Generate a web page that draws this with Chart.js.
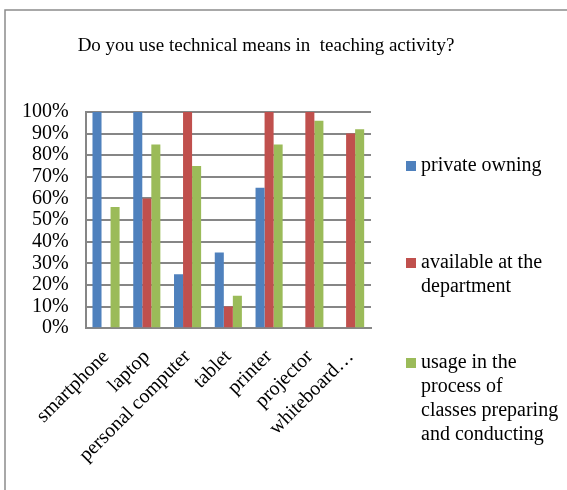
<!DOCTYPE html>
<html>
<head>
<meta charset="utf-8">
<script src="https://cdn.jsdelivr.net/npm/chart.js@4"></script>
<style>
  html, body { margin: 0; padding: 0; background: #fff; }
  #wrap { width: 567px; height: 490px; position: relative; }
</style>
</head>
<body>
<div id="wrap"><canvas id="c" width="567" height="490"></canvas></div>
<script>
const chartTitle = 'Do you use technical means in  teaching activity?';
const categories = ['smartphone', 'laptop', 'personal computer', 'tablet', 'printer', 'projector', 'whiteboard\u2026'];
const seriesNames = [['private owning'], ['available at the', 'department'], ['usage in the', 'process of', 'classes preparing', 'and conducting']];
const privateOwning = [100, 100, 25, 35, 65, 0, 0];
const availableDept = [0, 60, 100, 10, 100, 100, 90];
const usageClasses = [56, 85, 75, 15, 85, 96, 92];
const seriesColors = ['#4F81BD', '#C0504D', '#9BBB59'];

const FONT = '"Liberation Serif", "Times New Roman", serif';

const framePlugin = {
  id: 'frame',
  beforeDraw(chart) {
    const ctx = chart.ctx;
    ctx.save();
    ctx.fillStyle = '#fff';
    ctx.fillRect(0, 0, chart.width, chart.height);
    ctx.strokeStyle = '#8c8c8c';
    ctx.lineWidth = 1.5;
    ctx.beginPath();
    ctx.moveTo(5, chart.height);
    ctx.lineTo(5, 10);
    ctx.lineTo(chart.width, 10);
    ctx.stroke();
    ctx.restore();
  },
  afterDraw(chart) {
    const ctx = chart.ctx;
    ctx.save();
    ctx.fillStyle = '#000';
    ctx.font = '19px ' + FONT;
    ctx.textAlign = 'center';
    ctx.textBaseline = 'middle';
    ctx.fillText(chartTitle, 266, 46);
    // legend
    const itemY = [166, 263, 363];
    const lineH = 24;
    ctx.font = '20px ' + FONT;
    ctx.textAlign = 'left';
    chart.data.datasets.forEach((ds, i) => {
      const y0 = itemY[i];
      ctx.fillStyle = ds.backgroundColor;
      ctx.fillRect(406, y0 - 5, 10, 10);
      ctx.fillStyle = '#000';
      seriesNames[i].forEach((line, j) => {
        ctx.fillText(line, 421, y0 + j * lineH);
      });
    });
    ctx.restore();
  }
};

new Chart(document.getElementById('c'), {
  type: 'bar',
  data: {
    labels: categories,
    datasets: [
      { label: seriesNames[0].join(' '), data: privateOwning, backgroundColor: seriesColors[0] },
      { label: seriesNames[1].join(' '), data: availableDept, backgroundColor: seriesColors[1] },
      { label: seriesNames[2].join(' '), data: usageClasses, backgroundColor: seriesColors[2] }
    ]
  },
  options: {
    responsive: false,
    animation: false,
    devicePixelRatio: 1,
    layout: { padding: { left: 5, right: 196, top: 112, bottom: 6 } },
    datasets: { bar: { categoryPercentage: 0.665, barPercentage: 1.0, borderWidth: 0 } },
    plugins: {
      legend: { display: false },
      title: { display: false },
      tooltip: { enabled: false }
    },
    scales: {
      x: {
        afterFit(scale) { scale.paddingLeft = 0; scale.paddingRight = 0; },
        grid: { display: false, drawTicks: false },
        border: { display: true, color: '#868686', width: 2 },
        ticks: {
          color: '#000',
          font: { family: FONT, size: 20 },
          minRotation: 45,
          maxRotation: 45,
          padding: 17,
          autoSkip: false
        }
      },
      y: {
        min: 0,
        max: 100,
        grid: { color: '#868686', lineWidth: 2, drawTicks: false },
        border: { display: true, color: '#868686', width: 2 },
        ticks: {
          stepSize: 10,
          autoSkip: false,
          color: '#000',
          font: { family: FONT, size: 20 },
          padding: 17,
          callback: v => v + '%'
        }
      }
    }
  },
  plugins: [framePlugin]
});
</script>
</body>
</html>
